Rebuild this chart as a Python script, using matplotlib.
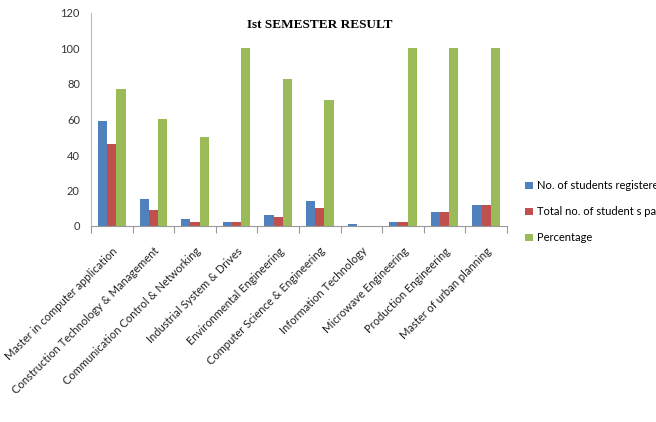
import matplotlib
matplotlib.use("Agg")
import matplotlib.pyplot as plt
import numpy as np

categories = [
    "Master in computer application",
    "Construction Technology & Management",
    "Communication Control & Networking",
    "Industrial System & Drives",
    "Environmental Engineering",
    "Computer Science & Engineering",
    "Information Technology",
    "Microwave Engineering",
    "Production Engineering",
    "Master of urban planning",
]
registered = [59, 15, 4, 2, 6, 14, 1, 2, 8, 12]
passed = [46, 9, 2, 2, 5, 10, 0, 2, 8, 12]
percentage = [77, 60, 50, 100, 83, 71, 0, 100, 100, 100]
series_names = ["No. of students registered", "Total no. of student s passed", "Percentage"]
yticks = [0, 20, 40, 60, 80, 100, 120]

colors = ["#4F81BD", "#C0504D", "#9BBB59"]

fig = plt.figure(figsize=(6.56, 4.22), dpi=100)
ax = fig.add_axes([91/656, 1-226/422, (507-91)/656, (226-13)/422])

x = np.arange(len(categories))
w = 0.222
for i, (vals, c, name) in enumerate(zip([registered, passed, percentage], colors, series_names)):
    ax.bar(x + (i-1)*w, vals, width=w, color=c, label=name, edgecolor='none')

ax.set_xlim(-0.5, len(categories)-0.5)
ax.set_ylim(0, 120)
ax.set_yticks(yticks)
ax.set_yticklabels([str(v) for v in yticks], fontsize=8, family="Lato", color="#333333")
ax.tick_params(axis='y', length=0, pad=8)

ax.set_xticks(np.arange(len(categories)+1)-0.5, minor=False)
ax.set_xticklabels([])
ax.set_xticks(x, minor=True)
ax.set_xticklabels(categories, minor=True, rotation=45, ha='right', va='top',
                   rotation_mode='anchor', fontsize=8, family="Lato", color="#222222")
ax.tick_params(axis='x', which='major', length=5, color="#999999", width=0.8)
ax.tick_params(axis='x', which='minor', length=0, pad=14)

for s in ["top", "right"]:
    ax.spines[s].set_visible(False)
ax.spines["left"].set_color("#BBBBBB")
ax.spines["bottom"].set_color("#999999")
ax.spines["left"].set_linewidth(0.8)
ax.spines["bottom"].set_linewidth(0.8)

fig.text(320/656, 1-25/422, "Ist SEMESTER RESULT", ha='center', va='center',
         family="Liberation Serif", fontweight='bold', fontsize=9.5)

leg = fig.legend(loc='upper left', bbox_to_anchor=(521/656, 1-176/422), frameon=False,
                 prop={'family': 'Lato', 'size': 8}, handlelength=0.7, handleheight=0.7,
                 handletextpad=0.3, labelspacing=1.35, borderaxespad=0)

fig.savefig("out.png", dpi=100)
